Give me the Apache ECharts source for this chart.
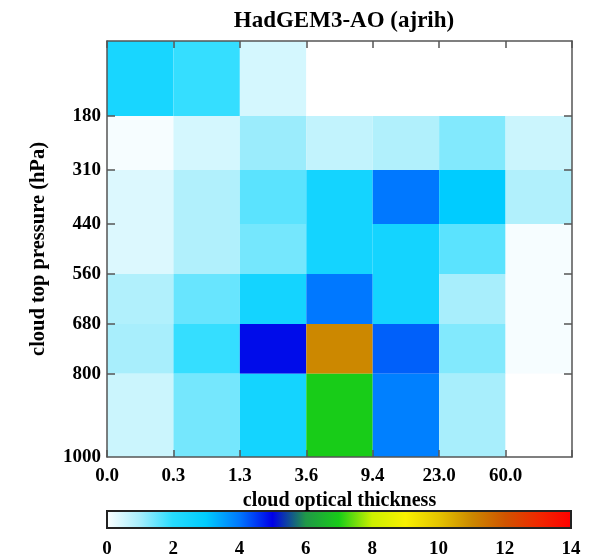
<!DOCTYPE html>
<html>
<head>
<meta charset="utf-8">
<script src="https://cdn.jsdelivr.net/npm/echarts@6/dist/echarts.min.js"></script>
<style>
  html, body { margin: 0; padding: 0; background: #fff; }
  #main { width: 595px; height: 559px; }
</style>
</head>
<body>
<div id="main"></div>
<script>
// optical thickness bin edges (x) and pressure bin edges (y, hPa)
var tauLabels = ['0.0', '0.3', '1.3', '3.6', '9.4', '23.0', '60.0'];
var presEdges = [0, 180, 310, 440, 560, 680, 800, 1000];
var presTicks = [180, 310, 440, 560, 680, 800, 1000];

// cell values, rows from top (low pressure) to bottom
var row0 = [2.4, 1.9, 0.5, 0.0, 0.0, 0.0, 0.0];
var row1 = [0.1, 0.5, 1.1, 0.7, 0.9, 1.3, 0.6];
var row2 = [0.4, 0.9, 1.6, 2.5, 4.0, 3.0, 0.9];
var row3 = [0.4, 0.9, 1.4, 2.5, 2.5, 1.6, 0.1];
var row4 = [0.9, 1.5, 2.5, 4.0, 2.5, 1.0, 0.1];
var row5 = [1.0, 1.9, 4.9, 11.0, 4.2, 1.3, 0.1];
var row6 = [0.6, 1.4, 2.5, 7.0, 3.9, 1.0, 0.0];
var rows = [row0, row1, row2, row3, row4, row5, row6];

// colour table, one colour per unit from 0 to 14
var barColors = ['#ffffff', '#a8eefc', '#28dcff', '#00ccff', '#0078ff', '#0000e8',
  '#209848', '#18cc18', '#ccf000', '#f8f000', '#e4c400', '#cc8800',
  '#d05400', '#f02800', '#ff0000'];

var cells = [];
rows.forEach(function (r, ri) {
  r.forEach(function (v, ci) { cells.push([ci, ri, v]); });
});

var font = 'Liberation Serif';
var myChart = echarts.init(document.getElementById('main'));

var stops = barColors.map(function (c, i) { return { offset: i / (barColors.length - 1), color: c }; });
var frame = { onZero: false, lineStyle: { color: '#555', width: 1.5 } };
var tickStyle = { color: '#555', width: 1.5 };

option = {
  animation: false,
  title: {
    text: 'HadGEM3-AO (ajrih)',
    left: 339,
    top: 5,
    textAlign: 'center',
    textStyle: { fontFamily: font, fontWeight: 'bold', fontSize: 23, color: '#000' }
  },
  grid: [
    { left: 107, right: 23, top: 41, bottom: 102 },
    { left: 107, right: 24, top: 511, height: 17 }
  ],
  xAxis: [{
    type: 'value', gridIndex: 0, min: 0, max: 7, interval: 1, z: 5,
    axisLine: frame,
    axisTick: { inside: true, length: 7, lineStyle: tickStyle },
    splitLine: { show: false },
    axisLabel: {
      margin: 10, color: '#000', fontFamily: font, fontWeight: 'bold', fontSize: 19,
      formatter: function (v) { return tauLabels[v] || ''; }
    },
    name: 'cloud optical thickness', nameLocation: 'middle', nameGap: 32,
    nameTextStyle: { fontFamily: font, fontWeight: 'bold', fontSize: 20, color: '#000' }
  }, {
    type: 'value', gridIndex: 0, position: 'top', min: 0, max: 7, interval: 1, z: 5,
    axisLine: frame,
    axisTick: { inside: true, length: 7, lineStyle: tickStyle },
    splitLine: { show: false }, axisLabel: { show: false }
  }, {
    type: 'value', gridIndex: 1, min: 0, max: 14, interval: 2,
    axisLine: { show: false }, axisTick: { show: false }, splitLine: { show: false },
    axisLabel: { margin: 12, color: '#000', fontFamily: font, fontWeight: 'bold', fontSize: 19 }
  }],
  yAxis: [{
    type: 'value', gridIndex: 0, inverse: true, min: 0, max: 1000, z: 5,
    axisLine: frame,
    axisTick: { inside: true, length: 8, customValues: presTicks.slice(0, 6), lineStyle: tickStyle },
    splitLine: { show: false },
    axisLabel: {
      customValues: presTicks, margin: 6, color: '#000', fontFamily: font, fontWeight: 'bold', fontSize: 19,
      formatter: function (v) { return String(v); }
    },
    name: 'cloud top pressure (hPa)', nameLocation: 'middle', nameGap: 58, nameRotate: 90,
    nameTextStyle: { fontFamily: font, fontWeight: 'bold', fontSize: 20.5, color: '#000' }
  }, {
    type: 'value', gridIndex: 0, position: 'right', inverse: true, min: 0, max: 1000, z: 5,
    axisLine: frame,
    axisTick: { inside: true, length: 8, customValues: presTicks.slice(0, 6), lineStyle: tickStyle },
    splitLine: { show: false }, axisLabel: { show: false }
  }, {
    type: 'value', gridIndex: 1, min: 0, max: 1, show: false
  }],
  visualMap: {
    show: false, type: 'continuous', seriesIndex: 0, dimension: 2,
    min: 0, max: 14, inRange: { color: barColors }
  },
  series: [{
    type: 'custom',
    xAxisIndex: 0, yAxisIndex: 0,
    data: cells,
    z: 1,
    renderItem: function (params, api) {
      var c = api.value(0), r = api.value(1);
      var p1 = api.coord([c, presEdges[r]]);
      var p2 = api.coord([c + 1, presEdges[r + 1]]);
      return {
        type: 'rect',
        shape: { x: p1[0], y: p1[1], width: p2[0] - p1[0], height: p2[1] - p1[1] },
        style: { fill: api.visual('color') }
      };
    }
  }, {
    type: 'custom',
    xAxisIndex: 2, yAxisIndex: 2,
    data: [[0, 14]],
    renderItem: function (params, api) {
      var p1 = api.coord([api.value(0), 1]);
      var p2 = api.coord([api.value(1), 0]);
      return {
        type: 'rect',
        shape: { x: p1[0], y: p1[1], width: p2[0] - p1[0], height: p2[1] - p1[1] },
        style: {
          fill: new echarts.graphic.LinearGradient(0, 0, 1, 0, stops),
          stroke: '#222', lineWidth: 2
        }
      };
    }
  }]
};
myChart.setOption(option);
</script>
</body>
</html>
